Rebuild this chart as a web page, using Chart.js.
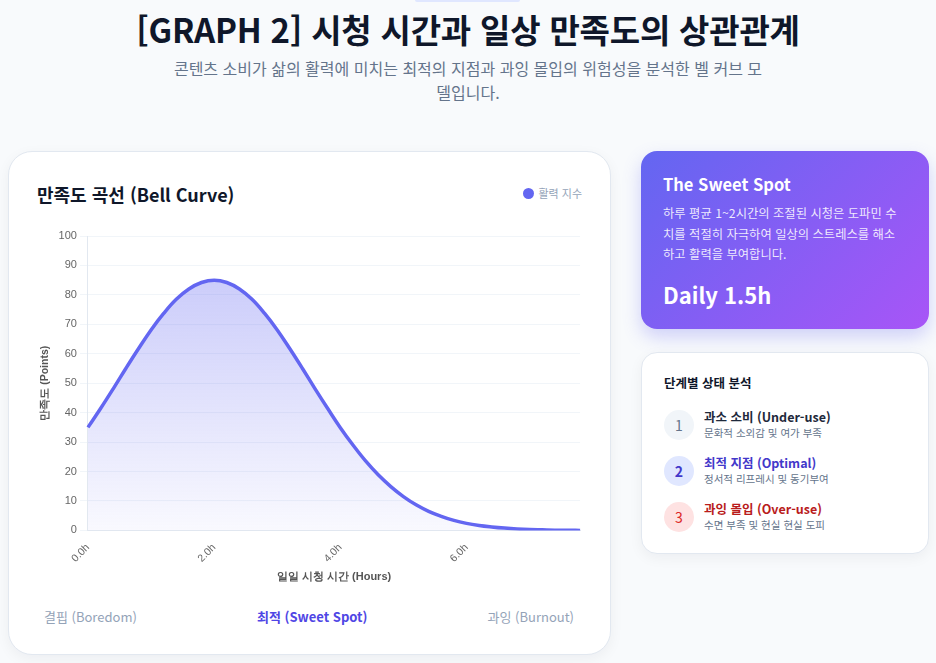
<!DOCTYPE html>
<html lang="ko">
<head>
    <meta charset="UTF-8">
    <meta name="viewport" content="width=device-width, initial-scale=1.0">
    <title>시청 시간과 일상 만족도의 상관관계</title>
    <script src="https://cdn.jsdelivr.net/npm/chart.js"></script>
    <style>
        * { box-sizing: border-box; margin: 0; padding: 0; }
        body {
            background: #f8fafc;
            font-family: "Noto Sans CJK KR", "Noto Sans", sans-serif;
            color: #0f172a;
            width: 936px;
            height: 663px;
            overflow: hidden;
            position: relative;
        }
        .badge {
            position: absolute; top: 0; left: 415px; width: 105px; height: 2px;
            background: #e0e7ff; border-radius: 0 0 6px 6px;
        }
        header { text-align: center; padding-top: 6px; }
        h1 { font-size: 33px; font-weight: 700; line-height: 46px; letter-spacing: -0.2px; }
        .subtitle {
            width: 600px; margin: 4px auto 0; font-size: 16px; line-height: 24px; color: #64748b;
            word-break: break-all;
        }
        .layout {
            position: absolute; top: 151px; left: 8px;
            display: grid; grid-template-columns: 603px 288px; column-gap: 30px;
        }
        .card {
            background: #fff; border: 1px solid #e2e8f0; border-radius: 24px;
            box-shadow: 0 4px 14px rgba(15, 23, 42, 0.05);
        }
        .main { height: 504px; padding: 24px 28px 0 28px; }
        .main-head { display: flex; justify-content: space-between; align-items: center; height: 36px; }
        .main-head h2 { font-size: 18px; font-weight: 700; color: #0f172a; }
        .legend { font-size: 11px; color: #94a3b8; display: flex; align-items: center; margin-top: -2px; }
        .legend i { width: 11px; height: 11px; border-radius: 50%; background: #6366f1; margin-right: 4px; display: inline-block; }
        .chart-box { position: relative; height: 368px; margin-top: 8px; margin-left: -2px; margin-right: -10px; }
        .zones { display: flex; justify-content: space-between; font-size: 13px; color: #94a3b8; margin-top: 19px; padding: 0 8px 0 7px; }
        .zones b { color: #4f46e5; font-weight: 700; }
        .side { display: flex; flex-direction: column; }
        .sweet {
            height: 178px; border-radius: 16px; padding: 22px 26px 22px 22px;
            background: linear-gradient(135deg, #6366f1 0%, #a855f7 100%);
            color: #fff; box-shadow: 0 8px 18px rgba(99, 102, 241, 0.28);
        }
        .sweet h3 { font-size: 16.5px; font-weight: 700; line-height: 22px; }
        .sweet p { font-size: 12.3px; line-height: 20.5px; color: rgba(255,255,255,0.88); margin-top: 8px; }
        .sweet .big { font-size: 22px; font-weight: 700; margin-top: 14px; line-height: 30px; }
        .status { margin-top: 23px; height: 202px; border-radius: 16px; padding: 20px 22px; }
        .status h4 { font-size: 12.5px; font-weight: 700; color: #0f172a; line-height: 20px; }
        .item { display: flex; align-items: center; margin-top: 13px; }
        .item:first-of-type { margin-top: 15px; }
        .num {
            width: 30px; height: 30px; border-radius: 50%; display: flex; align-items: center; justify-content: center;
            font-size: 14px; margin-right: 10px; flex: none;
        }
        .item .t { font-size: 12.5px; font-weight: 700; line-height: 17px; color: #1e293b; }
        .item .s { font-size: 10.5px; color: #64748b; line-height: 16px; }
    </style>
</head>
<body>
    <div class="badge"></div>
    <header>
        <h1>[GRAPH 2] 시청 시간과 일상 만족도의 상관관계</h1>
        <p class="subtitle">콘텐츠 소비가 삶의 활력에 미치는 최적의 지점과 과잉 몰입의 위험성을 분석한 벨 커브 모델입니다.</p>
    </header>

    <div class="layout">
        <div class="card main">
            <div class="main-head">
                <h2>만족도 곡선 (Bell Curve)</h2>
                <span class="legend"><i></i>활력 지수</span>
            </div>
            <div class="chart-box">
                <canvas id="bellChart"></canvas>
            </div>
            <div class="zones">
                <span>결핍 (Boredom)</span>
                <b>최적 (Sweet Spot)</b>
                <span>과잉 (Burnout)</span>
            </div>
        </div>

        <div class="side">
            <div class="sweet">
                <h3>The Sweet Spot</h3>
                <p>하루 평균 1~2시간의 조절된 시청은 도파민 수치를 적절히 자극하여 일상의 스트레스를 해소하고 활력을 부여합니다.</p>
                <div class="big">Daily 1.5h</div>
            </div>
            <div class="card status">
                <h4>단계별 상태 분석</h4>
                <div class="item">
                    <div class="num" style="background:#f1f5f9;color:#64748b;">1</div>
                    <div><div class="t">과소 소비 (Under-use)</div><div class="s">문화적 소외감 및 여가 부족</div></div>
                </div>
                <div class="item">
                    <div class="num" style="background:#e0e7ff;color:#4338ca;font-weight:700;">2</div>
                    <div><div class="t" style="color:#4338ca;">최적 지점 (Optimal)</div><div class="s">정서적 리프레시 및 동기부여</div></div>
                </div>
                <div class="item">
                    <div class="num" style="background:#fee2e2;color:#dc2626;">3</div>
                    <div><div class="t" style="color:#b91c1c;">과잉 몰입 (Over-use)</div><div class="s">수면 부족 및 현실 현실 도피</div></div>
                </div>
            </div>
        </div>
    </div>

    <script>
        // daily viewing hours (every 0.2h)
        const hours = [
            '0.0h', '0.2h', '0.4h', '0.6h', '0.8h', '1.0h', '1.2h', '1.4h', '1.6h', '1.8h',
            '2.0h', '2.2h', '2.4h', '2.6h', '2.8h', '3.0h', '3.2h', '3.4h', '3.6h', '3.8h',
            '4.0h', '4.2h', '4.4h', '4.6h', '4.8h', '5.0h', '5.2h', '5.4h', '5.6h', '5.8h',
            '6.0h', '6.2h', '6.4h', '6.6h', '6.8h', '7.0h', '7.2h', '7.4h', '7.6h', '7.8h'
        ];
        // vitality index
        const vitality = [
            35.0, 41.4, 48.1, 55.0, 61.7, 68.1, 73.7, 78.5, 82.0, 84.2,
            85.0, 84.2, 82.0, 78.5, 73.7, 68.1, 61.7, 55.0, 48.1, 41.4,
            34.9, 29.0, 23.6, 18.9, 14.9, 11.5, 8.7, 6.5, 4.8, 3.4,
            2.4, 1.7, 1.2, 0.8, 0.5, 0.3, 0.2, 0.1, 0.1, 0.0
        ];
        const seriesName = '활력 지수';
        const xTitle = '일일 시청 시간 (Hours)';
        const yTitle = '만족도 (Points)';
        const yMin = 0, yMax = 100, yStep = 10;
        const labelEvery = 10;

        const ctx = document.getElementById('bellChart').getContext('2d');

        new Chart(ctx, {
            type: 'line',
            data: {
                labels: hours,
                datasets: [{
                    label: seriesName,
                    data: vitality,
                    borderColor: '#6366f1',
                    borderWidth: 3.5,
                    tension: 0.4,
                    pointRadius: 0,
                    fill: true,
                    backgroundColor: (c) => {
                        const area = c.chart.chartArea;
                        if (!area) return 'rgba(99, 102, 241, 0.2)';
                        const g = c.chart.ctx.createLinearGradient(0, area.top, 0, area.bottom);
                        g.addColorStop(0, 'rgba(99, 102, 241, 0.38)');
                        g.addColorStop(1, 'rgba(99, 102, 241, 0.04)');
                        return g;
                    },
                }]
            },
            options: {
                responsive: true,
                maintainAspectRatio: false,
                animation: false,
                layout: { padding: { top: 16, right: 2 } },
                plugins: {
                    legend: { display: false },
                    tooltip: { enabled: false },
                },
                scales: {
                    x: {
                        grid: { display: false },
                        border: { color: '#e2e8f0' },
                        title: {
                            display: true, text: xTitle, color: '#555',
                            font: { size: 11, weight: 'bold' }, padding: { top: 3 }
                        },
                        ticks: {
                            autoSkip: false, minRotation: 45, maxRotation: 45,
                            color: '#666', font: { size: 10.5 },
                            callback: function (v, i) { return i % labelEvery === 0 ? hours[i] : ''; }
                        }
                    },
                    y: {
                        min: yMin, max: yMax,
                        grid: { color: '#f1f5f9' },
                        border: { color: '#e2e8f0' },
                        title: {
                            display: true, text: yTitle, color: '#555',
                            font: { size: 10.5, weight: 'bold' }
                        },
                        ticks: { stepSize: yStep, color: '#666', font: { size: 11 } }
                    }
                }
            }
        });
    </script>
</body>
</html>
